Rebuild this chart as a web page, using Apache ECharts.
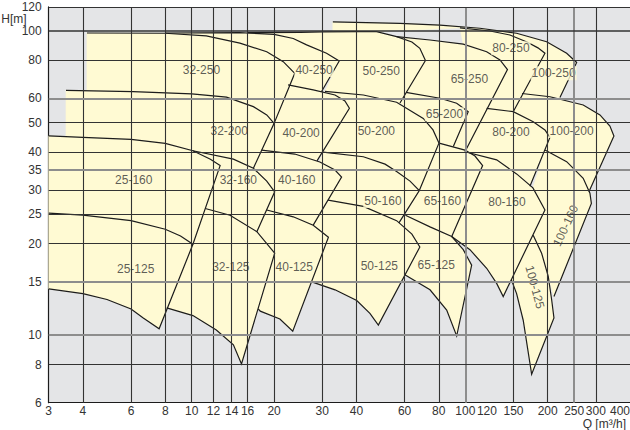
<!DOCTYPE html>
<html><head><meta charset="utf-8">
<script src="https://cdn.jsdelivr.net/npm/echarts@6/dist/echarts.min.js"></script>
<style>html,body{margin:0;padding:0;background:#fff}#c{width:630px;height:430px}</style>
</head><body><div id="c"></div>
<script>
// ---- axis ticks / grid ----
const xTickLabels = [3,4,6,8,10,12,14,16,20,30,40,60,80,100,120,150,200,250,300,400];
const yTickLabels = [6,8,10,15,20,25,30,35,40,50,60,80,100,120];
const xGridLines = [4,6,8,10,12,14,16,20,30,40,60,80,100,150,200,250,300];
const yGridLines = [8,10,15,20,25,30,35,40,50,60,80,100,120];
const xGreyLines = [100,250];
const yGreyLines = [60,35,15,10];

// ---- pump regions: [Q m3/h, H m] ; top curve (left->right), bottom path (right->left), side (fill only) ----
const top25_125 = [[3,25.2],[4,24.8],[6,23.8],[8,22.3],[9.1,21.2],[10.1,19.9]];
const bot25_125 = [[7.6,10.5],[6.65,11.4],[6,12.2],[4.9,13.1],[4,13.7],[3,14.2]];
const top25_160 = [[3,45.2],[4,44.7],[6,44],[8,42.7],[10.1,40.4],[11.7,37.9],[12.7,36.1]];
const bot25_160 = [[10.1,19.9],[8,22.3],[4,24.8],[3,25.2]];
const top32_125 = [[11.2,26.1],[13.8,24.8],[17.3,21.9],[20.1,18.6]];
const bot32_125 = [[15.2,8.04],[14.2,9.3],[12.3,10.4],[10.1,11.6],[8.1,12.3]];
const side32_125 = [[10.1,19.9]];
const top32_160 = [[10.1,40.4],[14.2,37.9],[16.8,35.4],[18.8,32.1],[20.1,29.6]];
const bot32_160 = [[17.3,21.9],[13.8,24.8],[11.2,26.1]];
const side32_160 = [[12.7,36.1]];
const top32_200 = [[3.47,63.8],[6.1,63.2],[10,62.1],[13.4,60.6],[16.8,56.4],[18.8,53],[20,49.7]];
const bot32_200 = [[16.8,35.4],[14.2,37.9],[10.1,40.4],[8,42.7],[6,44],[3.47,44.8]];
const top32_250 = [[4.14,98.5],[8,98.3],[11.3,96.3],[15,91.2],[18.8,85.5],[21.6,79.3],[23.8,72.6]];
const bot32_250 = [[20,49.7],[18.8,53],[16.8,56.4],[13.4,60.6],[10,62.1],[6.1,63.2],[4.14,63.5]];
const top40_125 = [[18.8,25.8],[23.5,24.5],[27.8,23],[31.6,21]];
const bot40_125 = [[23.4,10.3],[21,11.3],[17.8,12.0],[17.5,12.2]];
const side40_125 = [[20.1,18.6],[17.3,21.9]];
const top40_160 = [[18,40.6],[23.8,39.4],[29.4,37.1],[33.4,34.9],[35.3,33.1]];
const bot40_160 = [[27.8,23.0],[23.5,24.5],[18.8,25.8]];
const side40_160 = [[20.1,29.6],[18.8,32.1],[16.8,35.4]];
const top40_200 = [[22.5,66.5],[27.8,64.0],[33.4,61.6],[36.3,58.9],[37.7,55.7]];
const bot40_200 = [[28.7,37.4],[23.8,39.4],[18,40.6]];
const side40_200 = [[20,49.7]];
const top40_250 = [[8,98.5],[15,98.7],[20,97.5],[23.5,94.5],[26.3,90],[31.1,84.5],[34.6,79.7]];
const bot40_250 = [[29.8,63.1],[27.8,64.0],[22.5,66.5]];
const side40_250 = [[23.8,72.6],[21.6,79.3],[18.8,85.5],[15,91.2],[11.3,96.3]];
const top50_125 = [[31.5,27.8],[42.4,26.5],[56.1,23.8],[63.8,21.5],[68.2,19.5]];
const bot50_125 = [[48.1,10.8],[44.8,11.8],[40.1,13.0],[33.4,14.1],[27.3,15.0]];
const side50_125 = [[31.6,21],[27.8,23.0]];
const top50_160 = [[30.2,40.0],[42.4,38.6],[50.9,36.5],[56.1,34.5],[62.8,32.1],[67.9,29.9]];
const bot50_160 = [[57.2,23.4],[42.4,26.5],[31.5,27.8]];
const side50_160 = [[35.3,33.1],[29.4,37.1]];
const top50_200 = [[30.7,63.3],[42.4,61.6],[56.1,58.3],[70.2,51.6],[76.2,47.3],[80.1,42.8]];
const bot50_200 = [[67.9,29.9],[62.8,32.1],[56.1,34.5],[50.9,36.5],[42.4,38.6],[30.2,40.0]];
const side50_200 = [[37.7,55.7],[33.4,61.6]];
const top50_250 = [[16,98.7],[25,99],[30,99.3],[40.1,99.5],[47.4,99.5],[56.1,95.8],[63.8,92],[68.2,87.7],[71.5,80]];
const bot50_250 = [[57.7,58.0],[42.4,61.6],[30.7,63.3]];
const side50_250 = [[34.6,79.7],[31.1,84.5],[26.3,90],[23.5,94.5]];
const top65_125 = [[60.4,24.8],[74.3,22.7],[89.2,21.1],[98.3,19.1],[105.5,17.0]];
const bot65_125 = [[93,9.94],[85.5,12.1],[74.3,14.1],[60.1,15.8]];
const side65_125 = [[68.2,19.5],[57.2,23.4]];
const top65_160 = [[80.8,42.7],[99.7,40.6],[108.5,38.8],[115.7,36.1]];
const bot65_160 = [[89.2,21.1],[74.3,22.7],[60.4,24.8]];
const side65_160 = [[67.9,29.9]];
const top65_200 = [[60.7,62.8],[80.8,60.1],[93,57.9],[102.5,54.3]];
const bot65_200 = [[90.4,41.7],[80.8,42.7]];
const side65_200 = [[76.2,47.3],[70.2,51.6],[57.7,58.0]];
const top65_250 = [[56.1,95.8],[74.3,93.4],[98.3,90.5],[119.7,85.5],[133.9,80.3],[142.6,74.7]];
const bot65_250 = [[99.7,40.1],[90.4,41.7]];
const side65_250 = [[102.5,54.3],[93,57.9],[80.8,60.1],[60.7,62.8],[71.5,80],[68.2,87.7],[63.8,92]];
const top80_160 = [[99.7,40.1],[130.2,37.7],[154,33.9],[176.7,30.5],[195.5,25.8]];
const bot80_160 = [[137.6,13.4],[130.2,14.8],[119.7,16.6],[104,19.1],[89.2,21.1]];
const side80_160 = [[115.7,36.1],[108.5,38.8]];
const top80_200 = [[119.7,55.7],[149.7,54.3],[177.1,50.3],[195.5,47.3],[203.9,44.7]];
const bot80_200 = [[172.3,30.9],[154,33.9],[130.2,37.7],[99.7,40.1]];
const top80_250 = [[95.6,102.4],[123.1,100],[145.6,97],[168,92],[184.3,88],[195.5,84.5]];
const bot80_250 = [[149.7,54.3],[119.7,55.7]];
const side80_250 = [[142.6,74.7],[133.9,80.3],[119.7,85.5],[98.3,90.5]];
const top100_250 = [[32.8,107.1],[57.7,105.9],[80.8,104.6],[113.1,102.1],[154,98.3],[198.3,92.2],[234.7,84.5],[255.3,78.8]];
const bot100_250 = [[221.8,60.4],[203.9,60.8],[161.1,62.3]];
const side100_250 = [[195.5,84.5],[184.3,88],[168,92],[145.6,97],[123.1,100],[95.6,102.4],[47.4,99.5],[32.8,99.5]];
const top100_200 = [[161.1,62.3],[203.9,60.8],[269.8,57.1],[310.6,53.0],[337.8,48.7],[349.4,45.2]];
const bot100_200 = [[283.1,29.6],[269.8,32.8],[234.7,37.2],[195.5,40.6]];
const side100_200 = [[203.9,44.7],[177.1,50.3],[149.7,54.3]];
const top100_160 = [[195.5,40.6],[234.7,37.2],[269.8,32.8],[285.5,29.3],[289,27.1]];
const bot100_160 = [[210.9,13.4],[201,15.6],[190.1,18.6],[177.1,21.3]];
const side100_160 = [[195.5,25.8],[176.7,30.5]];
const top100_125 = [[177.1,21.3],[190.1,18.6],[201,15.6],[206.8,13.1],[210.9,11.4]];
const bot100_125 = [[174.8,7.44],[162.8,11.2],[154,13.7],[147.4,15.2]];

// ---- region labels ----
const labelNames = ['32-250','40-250','50-250','65-250','80-250','100-250','32-200','40-200','50-200','65-200','80-200','100-200','25-160','32-160','40-160','50-160','65-160','80-160','100-160','25-125','32-125','40-125','50-125','65-125','100-125'];
const labelQ = [10.85,28,49.3,103.5,146.8,210.3,13.7,25.1,47.3,83.9,146.8,244.6,6.14,14.8,24.2,50,82.5,142,232.8,6.24,13.9,23.7,48.5,78.3,179.7];
const labelH = [74.5,74.5,73.9,69.5,87.7,72.6,46.9,46.2,46.9,53.2,46.6,46.9,32.4,32.4,32.4,27.6,27.6,27.4,22.9,16.5,16.8,16.8,16.9,17.0,14.4];
const labelRot = [0,0,0,0,0,0,0,0,0,0,0,0,0,0,0,0,0,0,65,0,0,0,0,0,-75];

// table for the renderer
const tiles = [
  {top:top25_160, bottom:bot25_160, side:[], exposed:false},
  {top:top25_125, bottom:bot25_125, side:[], exposed:true},
  {top:top32_250, bottom:bot32_250, side:[], exposed:false},
  {top:top32_200, bottom:bot32_200, side:[], exposed:false},
  {top:top32_160, bottom:bot32_160, side:side32_160, exposed:false},
  {top:top32_125, bottom:bot32_125, side:side32_125, exposed:true},
  {top:top40_250, bottom:bot40_250, side:side40_250, exposed:false},
  {top:top40_200, bottom:bot40_200, side:side40_200, exposed:false},
  {top:top40_160, bottom:bot40_160, side:side40_160, exposed:false},
  {top:top40_125, bottom:bot40_125, side:side40_125, exposed:true},
  {top:top50_250, bottom:bot50_250, side:side50_250, exposed:false},
  {top:top50_200, bottom:bot50_200, side:side50_200, exposed:false},
  {top:top50_160, bottom:bot50_160, side:side50_160, exposed:false},
  {top:top50_125, bottom:bot50_125, side:side50_125, exposed:true},
  {top:top65_250, bottom:bot65_250, side:side65_250, exposed:false},
  {top:top65_200, bottom:bot65_200, side:side65_200, exposed:false},
  {top:top65_160, bottom:bot65_160, side:side65_160, exposed:false},
  {top:top65_125, bottom:bot65_125, side:side65_125, exposed:true},
  {top:top80_250, bottom:bot80_250, side:side80_250, exposed:false},
  {top:top80_200, bottom:bot80_200, side:[], exposed:false},
  {top:top80_160, bottom:bot80_160, side:side80_160, exposed:true},
  {top:top100_250, bottom:bot100_250, side:side100_250, exposed:false},
  {top:top100_200, bottom:bot100_200, side:side100_200, exposed:false},
  {top:top100_160, bottom:bot100_160, side:side100_160, exposed:false},
  {top:top100_125, bottom:bot100_125, side:[], exposed:true}
];

const YELLOW = '#fffad3';
const GREY_BG = '#e4e5e7';
const INK = '#1c1c1c';
const FONT = "'Liberation Sans Narrow','Arial Narrow','Liberation Sans',Arial,sans-serif";

const chart = echarts.init(document.getElementById('c'), null, {renderer:'svg'});

const gridMarks = [];
xGridLines.forEach(v => {
  const grey = xGreyLines.includes(v);
  gridMarks.push({xAxis:v, lineStyle:{color: grey ? '#8d8d8d' : '#333', width: grey ? 2 : 1.1, type:'solid'}});
});
yGridLines.forEach(v => {
  const grey = yGreyLines.includes(v);
  gridMarks.push({yAxis:v, lineStyle:{color: grey ? '#8d8d8d' : '#333', width: grey ? 2 : (v===100 ? 1.6 : 1.1), type:'solid'}});
});

const tileData = tiles.map((t,i)=>[t.top[0][0], t.top[0][1], i]);

chart.setOption({
  animation:false,
  grid:{left:48.7, right:0, top:6.9, bottom:27.3, outerBoundsMode:'none', show:true, backgroundColor:GREY_BG, borderWidth:0},
  graphic:[{type:'text', right:4, top:418, silent:true,
    style:{text:'Q [m³/h]', fill:'#333', fontSize:12, lineHeight:12, fontFamily:FONT}}],
  xAxis:{type:'log', logBase:10, min:3, max:400,
    axisLine:{show:true, lineStyle:{color:INK, width:1.2}},
    axisTick:{show:false}, splitLine:{show:false}, minorSplitLine:{show:false},
    axisLabel:{customValues:xTickLabels, color:'#333', fontSize:12, lineHeight:12, fontFamily:FONT, margin:2, alignMaxLabel:'right'}},
  yAxis:{type:'log', logBase:10, min:6, max:120,
    name:'H[m]', nameLocation:'end', nameGap:-19,
    nameTextStyle:{align:'right', padding:[0,22,0,0], color:'#333', fontSize:12, fontFamily:FONT},
    axisLine:{show:true, lineStyle:{color:INK, width:1.2}},
    axisTick:{show:false}, splitLine:{show:false}, minorSplitLine:{show:false},
    axisLabel:{customValues:yTickLabels, color:'#333', fontSize:12, fontFamily:FONT, margin:7}},
  series:[
    {type:'custom', name:'fill', coordinateSystem:'cartesian2d', z:1, silent:true, clip:true,
      data:tileData,
      renderItem:(params, api)=>{
        const t = tiles[params.dataIndex];
        const pts = t.top.concat(t.bottom, t.side).map(p=>api.coord(p));
        return {type:'polygon', shape:{points:pts}, style:{fill:YELLOW, stroke:YELLOW, lineWidth:0.6}};
      }},
    {type:'line', name:'grid', data:[], z:2, silent:true,
      markLine:{silent:true, symbol:['none','none'], label:{show:false}, animation:false, data:gridMarks}},
    {type:'custom', name:'outline', coordinateSystem:'cartesian2d', z:3, silent:true, clip:true,
      data:tileData,
      renderItem:(params, api)=>{
        const t = tiles[params.dataIndex];
        const path = t.exposed ? t.top.concat(t.bottom) : t.top.concat([t.bottom[0]]);
        return {type:'polyline', shape:{points:path.map(p=>api.coord(p))}, style:{fill:'none', stroke:INK, lineWidth:1.2}};
      }},
    {type:'scatter', name:'labels', z:4, silent:true, symbolSize:0,
      data:labelNames.map((n,i)=>({name:n, value:[labelQ[i], labelH[i]],
        label:{show:true, position:'inside', formatter:n, rotate:labelRot[i], color:'#333', fontSize:12, fontFamily:FONT,
          backgroundColor:YELLOW, padding:[1,1]}}))}
  ]
});
</script>
</body></html>
